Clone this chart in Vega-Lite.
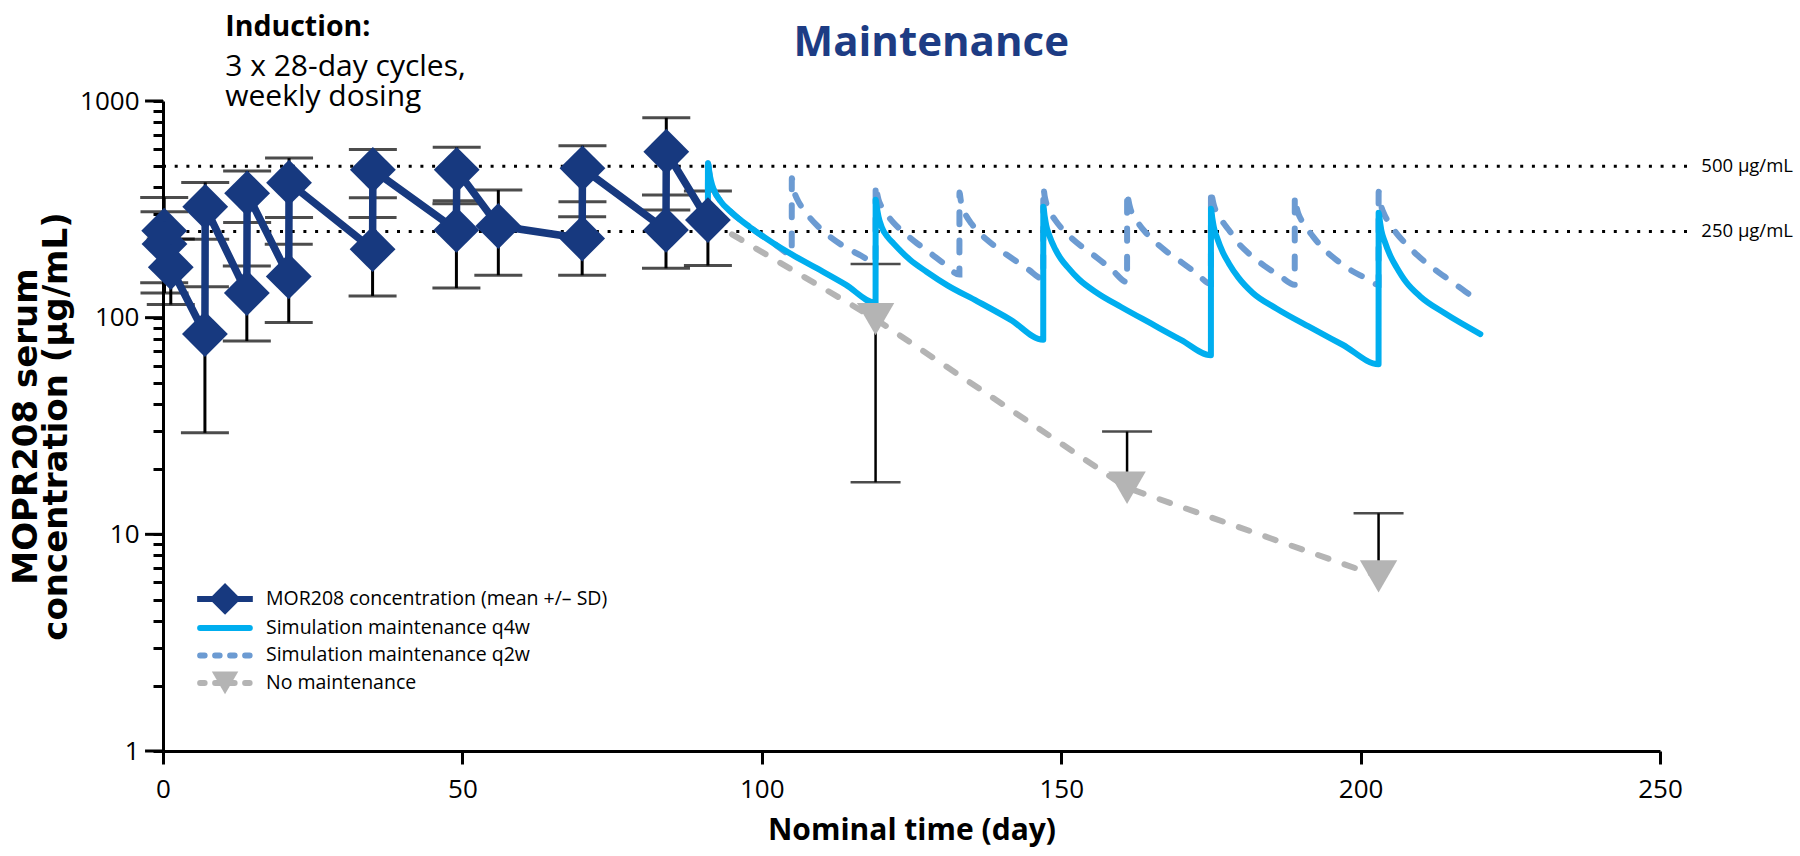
{
  "$schema": "https://vega.github.io/schema/vega-lite/v6.json",
  "width": 1497,
  "height": 650,
  "autosize": {"type": "none"},
  "padding": {"left": 163, "top": 101, "right": 140, "bottom": 105},
  "background": "white",
  "config": {"view": {"stroke": null}, "font": "Open Sans"},
  "datasets": {
    "obs": [
      {"day": 0.2, "conc": 252, "lo": 145, "hi": 359},
      {"day": 0.25, "conc": 219, "lo": 130, "hi": 308},
      {"day": 1.3, "conc": 171, "lo": 115, "hi": 231},
      {"day": 7, "conc": 84, "lo": 29.4, "hi": 139},
      {"day": 7.05, "conc": 325, "lo": 230, "hi": 421},
      {"day": 14, "conc": 130, "lo": 78, "hi": 173},
      {"day": 14.05, "conc": 375, "lo": 275, "hi": 475},
      {"day": 21, "conc": 155, "lo": 95, "hi": 218},
      {"day": 21.05, "conc": 420, "lo": 290, "hi": 545},
      {"day": 35, "conc": 207, "lo": 126, "hi": 290},
      {"day": 35.05, "conc": 481, "lo": 358, "hi": 598},
      {"day": 49, "conc": 254, "lo": 137, "hi": 336},
      {"day": 49.05, "conc": 481, "lo": 346, "hi": 611},
      {"day": 56, "conc": 265, "lo": 157, "hi": 388},
      {"day": 70, "conc": 232, "lo": 157, "hi": 292},
      {"day": 70.05, "conc": 489, "lo": 343, "hi": 622},
      {"day": 84, "conc": 254, "lo": 169, "hi": 368},
      {"day": 84.05, "conc": 583, "lo": 314, "hi": 837},
      {"day": 91, "conc": 282, "lo": 174, "hi": 384}
    ],
    "nomaint": [
      {"day": 91, "conc": 282, "lo": null, "hi": null},
      {"day": 119, "conc": 98.5, "lo": 17.4, "hi": 177},
      {"day": 161, "conc": 16.4, "lo": null, "hi": 29.8},
      {"day": 203, "conc": 6.4, "lo": null, "hi": 12.5}
    ],
    "sim": [
      {"regimen": "q4w", "day": 91, "conc": 282},
      {"regimen": "q4w", "day": 91.01, "conc": 516},
      {"regimen": "q4w", "day": 91.25, "conc": 465},
      {"regimen": "q4w", "day": 91.5, "conc": 430},
      {"regimen": "q4w", "day": 92, "conc": 388},
      {"regimen": "q4w", "day": 93, "conc": 348},
      {"regimen": "q4w", "day": 95, "conc": 305},
      {"regimen": "q4w", "day": 98, "conc": 262},
      {"regimen": "q4w", "day": 102, "conc": 220},
      {"regimen": "q4w", "day": 105, "conc": 196},
      {"regimen": "q4w", "day": 109, "conc": 170},
      {"regimen": "q4w", "day": 114, "conc": 142},
      {"regimen": "q4w", "day": 119, "conc": 117},
      {"regimen": "q4w", "day": 119.01, "conc": 350},
      {"regimen": "q4w", "day": 119.25, "conc": 318},
      {"regimen": "q4w", "day": 119.5, "conc": 292},
      {"regimen": "q4w", "day": 120, "conc": 263},
      {"regimen": "q4w", "day": 121, "conc": 236},
      {"regimen": "q4w", "day": 122, "conc": 220},
      {"regimen": "q4w", "day": 124.75, "conc": 185},
      {"regimen": "q4w", "day": 127.5, "conc": 163},
      {"regimen": "q4w", "day": 131, "conc": 141},
      {"regimen": "q4w", "day": 136, "conc": 119},
      {"regimen": "q4w", "day": 141.5, "conc": 98},
      {"regimen": "q4w", "day": 147, "conc": 79},
      {"regimen": "q4w", "day": 147.01, "conc": 325},
      {"regimen": "q4w", "day": 147.25, "conc": 292},
      {"regimen": "q4w", "day": 147.5, "conc": 267},
      {"regimen": "q4w", "day": 148, "conc": 240},
      {"regimen": "q4w", "day": 149, "conc": 207},
      {"regimen": "q4w", "day": 150, "conc": 186},
      {"regimen": "q4w", "day": 151, "conc": 172},
      {"regimen": "q4w", "day": 153, "conc": 150},
      {"regimen": "q4w", "day": 156, "conc": 130},
      {"regimen": "q4w", "day": 160, "conc": 112},
      {"regimen": "q4w", "day": 165, "conc": 94},
      {"regimen": "q4w", "day": 170, "conc": 79},
      {"regimen": "q4w", "day": 175, "conc": 67},
      {"regimen": "q4w", "day": 175.01, "conc": 318},
      {"regimen": "q4w", "day": 175.25, "conc": 286},
      {"regimen": "q4w", "day": 175.5, "conc": 261},
      {"regimen": "q4w", "day": 176, "conc": 235},
      {"regimen": "q4w", "day": 177, "conc": 200},
      {"regimen": "q4w", "day": 178, "conc": 178},
      {"regimen": "q4w", "day": 179.6, "conc": 153},
      {"regimen": "q4w", "day": 182, "conc": 130},
      {"regimen": "q4w", "day": 186, "conc": 110},
      {"regimen": "q4w", "day": 192, "conc": 89},
      {"regimen": "q4w", "day": 197, "conc": 75},
      {"regimen": "q4w", "day": 203, "conc": 61},
      {"regimen": "q4w", "day": 203.01, "conc": 305},
      {"regimen": "q4w", "day": 203.25, "conc": 275},
      {"regimen": "q4w", "day": 203.5, "conc": 250},
      {"regimen": "q4w", "day": 204, "conc": 226},
      {"regimen": "q4w", "day": 205, "conc": 192},
      {"regimen": "q4w", "day": 206, "conc": 171},
      {"regimen": "q4w", "day": 207.6, "conc": 146},
      {"regimen": "q4w", "day": 210, "conc": 125},
      {"regimen": "q4w", "day": 214, "conc": 105},
      {"regimen": "q4w", "day": 220, "conc": 84},
      {"regimen": "q2w", "day": 91, "conc": 282},
      {"regimen": "q2w", "day": 91.01, "conc": 516},
      {"regimen": "q2w", "day": 91.25, "conc": 465},
      {"regimen": "q2w", "day": 91.5, "conc": 430},
      {"regimen": "q2w", "day": 92, "conc": 388},
      {"regimen": "q2w", "day": 93, "conc": 348},
      {"regimen": "q2w", "day": 95, "conc": 305},
      {"regimen": "q2w", "day": 98, "conc": 262},
      {"regimen": "q2w", "day": 102, "conc": 220},
      {"regimen": "q2w", "day": 105, "conc": 196},
      {"regimen": "q2w", "day": 105.01, "conc": 440},
      {"regimen": "q2w", "day": 105.25, "conc": 400},
      {"regimen": "q2w", "day": 105.5, "conc": 375},
      {"regimen": "q2w", "day": 106, "conc": 348},
      {"regimen": "q2w", "day": 107, "conc": 315},
      {"regimen": "q2w", "day": 108, "conc": 290},
      {"regimen": "q2w", "day": 109.5, "conc": 262},
      {"regimen": "q2w", "day": 111.5, "conc": 235},
      {"regimen": "q2w", "day": 114, "conc": 211},
      {"regimen": "q2w", "day": 116.5, "conc": 194},
      {"regimen": "q2w", "day": 119, "conc": 179},
      {"regimen": "q2w", "day": 119.01, "conc": 412},
      {"regimen": "q2w", "day": 119.25, "conc": 375},
      {"regimen": "q2w", "day": 119.5, "conc": 350},
      {"regimen": "q2w", "day": 120, "conc": 325},
      {"regimen": "q2w", "day": 121, "conc": 296},
      {"regimen": "q2w", "day": 122, "conc": 274},
      {"regimen": "q2w", "day": 123.5, "conc": 250},
      {"regimen": "q2w", "day": 125.5, "conc": 225},
      {"regimen": "q2w", "day": 128, "conc": 200},
      {"regimen": "q2w", "day": 130.5, "conc": 177},
      {"regimen": "q2w", "day": 133, "conc": 158},
      {"regimen": "q2w", "day": 133.01, "conc": 378},
      {"regimen": "q2w", "day": 133.25, "conc": 345},
      {"regimen": "q2w", "day": 133.5, "conc": 322},
      {"regimen": "q2w", "day": 134, "conc": 300},
      {"regimen": "q2w", "day": 135, "conc": 272},
      {"regimen": "q2w", "day": 136, "conc": 252},
      {"regimen": "q2w", "day": 137.5, "conc": 230},
      {"regimen": "q2w", "day": 139.5, "conc": 208},
      {"regimen": "q2w", "day": 142, "conc": 186},
      {"regimen": "q2w", "day": 144.5, "conc": 167},
      {"regimen": "q2w", "day": 147, "conc": 151},
      {"regimen": "q2w", "day": 147.01, "conc": 398},
      {"regimen": "q2w", "day": 147.25, "conc": 362},
      {"regimen": "q2w", "day": 147.5, "conc": 338},
      {"regimen": "q2w", "day": 148, "conc": 312},
      {"regimen": "q2w", "day": 149, "conc": 282},
      {"regimen": "q2w", "day": 150, "conc": 260},
      {"regimen": "q2w", "day": 151.5, "conc": 236},
      {"regimen": "q2w", "day": 153.5, "conc": 212},
      {"regimen": "q2w", "day": 156, "conc": 189},
      {"regimen": "q2w", "day": 158.5, "conc": 166},
      {"regimen": "q2w", "day": 161, "conc": 146},
      {"regimen": "q2w", "day": 161.01, "conc": 380},
      {"regimen": "q2w", "day": 161.25, "conc": 346},
      {"regimen": "q2w", "day": 161.5, "conc": 322},
      {"regimen": "q2w", "day": 162, "conc": 298},
      {"regimen": "q2w", "day": 163, "conc": 270},
      {"regimen": "q2w", "day": 164, "conc": 249},
      {"regimen": "q2w", "day": 165.5, "conc": 226},
      {"regimen": "q2w", "day": 167.5, "conc": 203},
      {"regimen": "q2w", "day": 170, "conc": 181},
      {"regimen": "q2w", "day": 172.5, "conc": 161},
      {"regimen": "q2w", "day": 175, "conc": 143},
      {"regimen": "q2w", "day": 175.01, "conc": 390},
      {"regimen": "q2w", "day": 175.25, "conc": 355},
      {"regimen": "q2w", "day": 175.5, "conc": 330},
      {"regimen": "q2w", "day": 176, "conc": 305},
      {"regimen": "q2w", "day": 177, "conc": 276},
      {"regimen": "q2w", "day": 178, "conc": 254},
      {"regimen": "q2w", "day": 179.5, "conc": 222},
      {"regimen": "q2w", "day": 181.5, "conc": 196},
      {"regimen": "q2w", "day": 184, "conc": 173},
      {"regimen": "q2w", "day": 186.5, "conc": 156},
      {"regimen": "q2w", "day": 189, "conc": 142},
      {"regimen": "q2w", "day": 189.01, "conc": 362},
      {"regimen": "q2w", "day": 189.25, "conc": 330},
      {"regimen": "q2w", "day": 189.5, "conc": 308},
      {"regimen": "q2w", "day": 190, "conc": 286},
      {"regimen": "q2w", "day": 191, "conc": 259},
      {"regimen": "q2w", "day": 192, "conc": 238},
      {"regimen": "q2w", "day": 193.5, "conc": 212},
      {"regimen": "q2w", "day": 195.5, "conc": 189},
      {"regimen": "q2w", "day": 198, "conc": 168},
      {"regimen": "q2w", "day": 200.5, "conc": 154},
      {"regimen": "q2w", "day": 203, "conc": 142},
      {"regimen": "q2w", "day": 203.01, "conc": 381},
      {"regimen": "q2w", "day": 203.25, "conc": 347},
      {"regimen": "q2w", "day": 203.5, "conc": 323},
      {"regimen": "q2w", "day": 204, "conc": 298},
      {"regimen": "q2w", "day": 205, "conc": 268},
      {"regimen": "q2w", "day": 206, "conc": 245},
      {"regimen": "q2w", "day": 207.5, "conc": 220},
      {"regimen": "q2w", "day": 209.5, "conc": 194},
      {"regimen": "q2w", "day": 212, "conc": 170},
      {"regimen": "q2w", "day": 215, "conc": 148},
      {"regimen": "q2w", "day": 217.5, "conc": 132},
      {"regimen": "q2w", "day": 220, "conc": 117}
    ],
    "refs": [
      {"level": 500, "label": "500 µg/mL"},
      {"level": 250, "label": "250 µg/mL"}
    ],
    "decades": [{"v": 1}, {"v": 10}, {"v": 100}, {"v": 1000}],
    "notes": [
      {"id": "induction", "text": "Induction:"},
      {"id": "cycles", "text": "3 x 28-day cycles,"},
      {"id": "weekly", "text": "weekly dosing"},
      {"id": "maint", "text": "Maintenance"}
    ],
    "legend": [
      {"key": "obs", "label": "MOR208 concentration (mean +/– SD)"},
      {"key": "q4w", "label": "Simulation maintenance q4w"},
      {"key": "q2w", "label": "Simulation maintenance q2w"},
      {"key": "none", "label": "No maintenance"}
    ]
  },
  "layer": [
    {
      "data": {"name": "obs"},
      "mark": {"type": "rule", "color": "black", "strokeWidth": 3},
      "encoding": {
        "x": {
          "field": "day", "type": "quantitative",
          "scale": {"domain": [0, 250], "nice": false},
          "axis": {
            "values": [0, 50, 100, 150, 200, 250],
            "grid": false, "domainColor": "black", "domainWidth": 3,
            "tickColor": "black", "tickWidth": 3, "tickSize": 13,
            "labelFont": "Open Sans", "labelFontSize": 26, "labelColor": "black",
            "labelPadding": 12, "labelFlush": false,
            "title": "Nominal time (day)", "titleFont": "Open Sans",
            "titleFontSize": 30, "titleFontWeight": "bold", "titleColor": "black",
            "titlePadding": 13
          }
        },
        "y": {
          "field": "lo", "type": "quantitative",
          "scale": {"type": "log", "domain": [1, 1000], "nice": false},
          "axis": {
            "values": [1, 2, 3, 4, 5, 6, 7, 8, 9, 10, 20, 30, 40, 50, 60, 70, 80, 90, 100, 200, 300, 400, 500, 600, 700, 800, 900, 1000],
            "labelExpr": "indexof([1, 10, 100, 1000], datum.value) >= 0 ? '' + datum.value : ''",
            "labelOverlap": false,
            "grid": false, "domainColor": "black", "domainWidth": 3,
            "tickColor": "black", "tickWidth": 3, "tickSize": 10,
            "labelFont": "Open Sans", "labelFontSize": 26, "labelColor": "black",
            "labelPadding": 14,
            "title": ["MOPR208 serum", "concentration (µg/mL)"],
            "titleFont": "DejaVu Sans", "titleFontSize": 34, "titleFontWeight": "bold",
            "titleColor": "black", "titlePadding": 6, "titleLineHeight": 30
          }
        },
        "y2": {"field": "hi"}
      }
    },
    {
      "data": {"name": "decades"},
      "mark": {"type": "rule", "color": "black", "strokeWidth": 3},
      "encoding": {
        "x": {"datum": -3.0, "type": "quantitative"},
        "x2": {"datum": 0},
        "y": {"field": "v", "type": "quantitative"}
      }
    },
    {
      "data": {"name": "obs"},
      "mark": {"type": "tick", "orient": "horizontal", "size": 48, "thickness": 3, "color": "black"},
      "encoding": {
        "x": {"field": "day", "type": "quantitative"},
        "y": {"field": "lo", "type": "quantitative"}
      }
    },
    {
      "data": {"name": "obs"},
      "mark": {"type": "tick", "orient": "horizontal", "size": 48, "thickness": 3, "color": "black"},
      "encoding": {
        "x": {"field": "day", "type": "quantitative"},
        "y": {"field": "hi", "type": "quantitative"}
      }
    },
    {
      "data": {"name": "nomaint"},
      "transform": [{"filter": "datum.hi != null"}],
      "mark": {"type": "rule", "color": "black", "strokeWidth": 2.5},
      "encoding": {
        "x": {"field": "day", "type": "quantitative"},
        "y": {"field": "conc", "type": "quantitative"},
        "y2": {"field": "hi"}
      }
    },
    {
      "data": {"name": "nomaint"},
      "transform": [{"filter": "datum.lo != null"}],
      "mark": {"type": "rule", "color": "black", "strokeWidth": 2.5},
      "encoding": {
        "x": {"field": "day", "type": "quantitative"},
        "y": {"field": "lo", "type": "quantitative"},
        "y2": {"field": "conc"}
      }
    },
    {
      "data": {"name": "nomaint"},
      "transform": [{"filter": "datum.hi != null"}],
      "mark": {"type": "tick", "orient": "horizontal", "size": 50, "thickness": 2.5, "color": "black"},
      "encoding": {
        "x": {"field": "day", "type": "quantitative"},
        "y": {"field": "hi", "type": "quantitative"}
      }
    },
    {
      "data": {"name": "nomaint"},
      "transform": [{"filter": "datum.lo != null"}],
      "mark": {"type": "tick", "orient": "horizontal", "size": 50, "thickness": 2.5, "color": "black"},
      "encoding": {
        "x": {"field": "day", "type": "quantitative"},
        "y": {"field": "lo", "type": "quantitative"}
      }
    },
    {
      "data": {"name": "refs"},
      "mark": {"type": "rule", "color": "black", "strokeWidth": 3, "strokeDash": [3, 8.7]},
      "encoding": {
        "x": {"datum": 0, "type": "quantitative"},
        "x2": {"datum": 255.8},
        "y": {"field": "level", "type": "quantitative"}
      }
    },
    {
      "data": {"name": "refs"},
      "mark": {"type": "text", "align": "right", "baseline": "middle", "font": "Open Sans", "fontSize": 18.5, "color": "black"},
      "encoding": {
        "x": {"datum": 272.2, "type": "quantitative"},
        "y": {"field": "level", "type": "quantitative"},
        "text": {"field": "label"}
      }
    },
    {
      "data": {"name": "nomaint"},
      "mark": {"type": "line", "color": "#b4b4b4", "strokeWidth": 6, "strokeDash": [11, 17], "strokeCap": "round"},
      "encoding": {
        "x": {"field": "day", "type": "quantitative"},
        "y": {"field": "conc", "type": "quantitative"}
      }
    },
    {
      "data": {"name": "sim"},
      "transform": [{"filter": "datum.regimen == 'q2w'"}],
      "mark": {"type": "line", "color": "#6c9bd2", "strokeWidth": 6, "strokeDash": [12, 16], "strokeCap": "round", "interpolate": "monotone"},
      "encoding": {
        "x": {"field": "day", "type": "quantitative"},
        "y": {"field": "conc", "type": "quantitative"}
      }
    },
    {
      "data": {"name": "sim"},
      "transform": [{"filter": "datum.regimen == 'q4w'"}],
      "mark": {"type": "line", "color": "#00aeef", "strokeWidth": 6, "strokeCap": "round", "strokeJoin": "round", "interpolate": "monotone"},
      "encoding": {
        "x": {"field": "day", "type": "quantitative"},
        "y": {"field": "conc", "type": "quantitative"}
      }
    },
    {
      "data": {"name": "obs"},
      "mark": {"type": "line", "color": "#17397f", "strokeWidth": 7.5, "strokeJoin": "round"},
      "encoding": {
        "x": {"field": "day", "type": "quantitative"},
        "y": {"field": "conc", "type": "quantitative"}
      }
    },
    {
      "data": {"name": "obs"},
      "mark": {"type": "point", "shape": "diamond", "filled": true, "size": 2100, "color": "#17397f", "opacity": 1},
      "encoding": {
        "x": {"field": "day", "type": "quantitative"},
        "y": {"field": "conc", "type": "quantitative"}
      }
    },
    {
      "data": {"name": "nomaint"},
      "transform": [{"filter": "datum.hi != null"}],
      "mark": {"type": "point", "shape": "triangle-down", "filled": true, "size": 1400, "color": "#b4b4b4", "opacity": 1},
      "encoding": {
        "x": {"field": "day", "type": "quantitative"},
        "y": {"field": "conc", "type": "quantitative"}
      }
    },
    {
      "data": {"name": "notes"},
      "transform": [{"filter": "datum.id == 'induction'"}],
      "mark": {"type": "text", "align": "left", "baseline": "alphabetic", "font": "Open Sans", "fontWeight": "bold", "fontSize": 28.5, "color": "black"},
      "encoding": {
        "x": {"datum": 10.4, "type": "quantitative"},
        "y": {"datum": 1995, "type": "quantitative"},
        "text": {"field": "text"}
      }
    },
    {
      "data": {"name": "notes"},
      "transform": [{"filter": "datum.id == 'cycles'"}],
      "mark": {"type": "text", "align": "left", "baseline": "alphabetic", "font": "Open Sans", "fontSize": 30, "color": "black"},
      "encoding": {
        "x": {"datum": 10.4, "type": "quantitative"},
        "y": {"datum": 1305, "type": "quantitative"},
        "text": {"field": "text"}
      }
    },
    {
      "data": {"name": "notes"},
      "transform": [{"filter": "datum.id == 'weekly'"}],
      "mark": {"type": "text", "align": "left", "baseline": "alphabetic", "font": "Open Sans", "fontSize": 30, "color": "black"},
      "encoding": {
        "x": {"datum": 10.4, "type": "quantitative"},
        "y": {"datum": 950, "type": "quantitative"},
        "text": {"field": "text"}
      }
    },
    {
      "data": {"name": "notes"},
      "transform": [{"filter": "datum.id == 'maint'"}],
      "mark": {"type": "text", "align": "center", "baseline": "alphabetic", "font": "Open Sans", "fontWeight": "bold", "fontSize": 42, "color": "#1d3c84"},
      "encoding": {
        "x": {"datum": 128.3, "type": "quantitative"},
        "y": {"datum": 1614, "type": "quantitative"},
        "text": {"field": "text"}
      }
    },
    {
      "data": {"name": "legend"},
      "transform": [{"filter": "datum.key == 'obs'"}],
      "mark": {"type": "rule", "color": "#17397f", "strokeWidth": 6},
      "encoding": {"x": {"datum": 5.7, "type": "quantitative"}, "x2": {"datum": 15.0}, "y": {"datum": 5.034, "type": "quantitative"}}
    },
    {
      "data": {"name": "legend"},
      "transform": [{"filter": "datum.key == 'q4w'"}],
      "mark": {"type": "rule", "color": "#00aeef", "strokeWidth": 6, "strokeCap": "round"},
      "encoding": {"x": {"datum": 6.2, "type": "quantitative"}, "x2": {"datum": 14.5}, "y": {"datum": 3.7, "type": "quantitative"}}
    },
    {
      "data": {"name": "legend"},
      "transform": [{"filter": "datum.key == 'q2w'"}],
      "mark": {"type": "rule", "color": "#6c9bd2", "strokeWidth": 6, "strokeCap": "round", "strokeDash": [4.5, 10.5]},
      "encoding": {"x": {"datum": 6.2, "type": "quantitative"}, "x2": {"datum": 14.7}, "y": {"datum": 2.761, "type": "quantitative"}}
    },
    {
      "data": {"name": "legend"},
      "transform": [{"filter": "datum.key == 'none'"}],
      "mark": {"type": "rule", "color": "#b4b4b4", "strokeWidth": 6, "strokeCap": "round", "strokeDash": [4.5, 10.5]},
      "encoding": {"x": {"datum": 6.2, "type": "quantitative"}, "x2": {"datum": 14.7}, "y": {"datum": 2.062, "type": "quantitative"}}
    },
    {
      "data": {"name": "legend"},
      "transform": [{"filter": "datum.key == 'obs'"}],
      "mark": {"type": "point", "shape": "diamond", "filled": true, "size": 1000, "color": "#17397f", "opacity": 1},
      "encoding": {"x": {"datum": 10.36, "type": "quantitative"}, "y": {"datum": 5.034, "type": "quantitative"}}
    },
    {
      "data": {"name": "legend"},
      "transform": [{"filter": "datum.key == 'none'"}],
      "mark": {"type": "point", "shape": "triangle-down", "filled": true, "size": 700, "color": "#b4b4b4", "opacity": 1},
      "encoding": {"x": {"datum": 10.36, "type": "quantitative"}, "y": {"datum": 2.062, "type": "quantitative"}}
    },
    {
      "data": {"name": "legend"},
      "transform": [{"filter": "datum.key == 'obs'"}],
      "mark": {"type": "text", "align": "left", "baseline": "middle", "font": "Open Sans", "fontSize": 19.5, "color": "black"},
      "encoding": {"x": {"datum": 17.2, "type": "quantitative"}, "y": {"datum": 5.034, "type": "quantitative"}, "text": {"field": "label"}}
    },
    {
      "data": {"name": "legend"},
      "transform": [{"filter": "datum.key == 'q4w'"}],
      "mark": {"type": "text", "align": "left", "baseline": "middle", "font": "Open Sans", "fontSize": 19.5, "color": "black"},
      "encoding": {"x": {"datum": 17.2, "type": "quantitative"}, "y": {"datum": 3.7, "type": "quantitative"}, "text": {"field": "label"}}
    },
    {
      "data": {"name": "legend"},
      "transform": [{"filter": "datum.key == 'q2w'"}],
      "mark": {"type": "text", "align": "left", "baseline": "middle", "font": "Open Sans", "fontSize": 19.5, "color": "black"},
      "encoding": {"x": {"datum": 17.2, "type": "quantitative"}, "y": {"datum": 2.761, "type": "quantitative"}, "text": {"field": "label"}}
    },
    {
      "data": {"name": "legend"},
      "transform": [{"filter": "datum.key == 'none'"}],
      "mark": {"type": "text", "align": "left", "baseline": "middle", "font": "Open Sans", "fontSize": 19.5, "color": "black"},
      "encoding": {"x": {"datum": 17.2, "type": "quantitative"}, "y": {"datum": 2.062, "type": "quantitative"}, "text": {"field": "label"}}
    }
  ]
}
